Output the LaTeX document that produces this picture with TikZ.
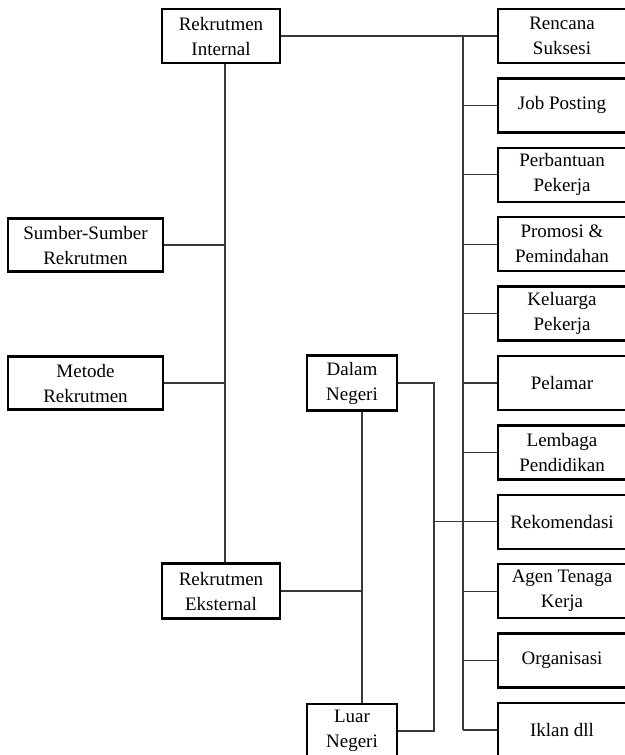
\documentclass[tikz,border=0pt]{standalone}
\usepackage{fontspec}
\setmainfont{Liberation Serif}
\usetikzlibrary{calc}

\tikzset{
        kotak/.style={draw=black, line width=2.4pt, align=center, inner sep=0pt,
                font=\fontsize{19}{25}\selectfont},
        garis/.style={draw=black!78, line width=1.2pt}
}

\begin{document}
\begin{tikzpicture}[x=1pt, y=-1pt]
        \useasboundingbox (0,0) rectangle (624,755);

        \node[kotak, minimum width=118, minimum height=54] (internal) at (221,36) {Rekrutmen\\Internal};
        \node[kotak, minimum width=155, minimum height=53] (sumber) at (85.5,245) {Sumber-Sumber\\Rekrutmen};
        \node[kotak, minimum width=155, minimum height=53] (metode) at (85.5,383) {Metode\\Rekrutmen};
        \node[kotak, minimum width=118, minimum height=55] (eksternal) at (221,591) {Rekrutmen\\Eksternal};
        \node[kotak, minimum width=90, minimum height=55] (dalam) at (352,383) {Dalam\\Negeri};
        \node[kotak, minimum width=90, minimum height=54] (luar) at (352,731) {Luar\\Negeri};

        \foreach \teks [count=\i] in {Rencana\\Suksesi, Job Posting, Perbantuan\\Pekerja,
                Promosi \&\\Pemindahan, Keluarga\\Pekerja, Pelamar, Lembaga\\Pendidikan,
                Rekomendasi, Agen Tenaga\\Kerja, Organisasi, Iklan dll}
                \node[kotak, minimum width=128, minimum height=54] (r\i) at (562,{36+69.4*(\i-1)}) {\teks};

        \coordinate (bus) at (463,0);
        \coordinate (tulang) at (225,0);
        \coordinate (cabang) at (362,0);
        \coordinate (sambung) at (434,0);

        \draw[garis] (internal.east) -- (r1.west);
        \draw[garis] (bus |- r1.west) -- (bus |- r11.west);
        \foreach \i in {2,...,11}
                \draw[garis] (bus |- r\i.west) -- (r\i.west);

        \draw[garis] (tulang |- internal.south) -- (tulang |- eksternal.north);
        \draw[garis] (sumber.east) -- (tulang |- sumber.east);
        \draw[garis] (metode.east) -- (tulang |- metode.east);

        \draw[garis] (eksternal.east) -- (cabang |- eksternal.east);
        \draw[garis] (cabang |- dalam.south) -- (cabang |- luar.north);
        \draw[garis] (dalam.east) -| (sambung |- luar.east) -- (luar.east);
        \draw[garis] (sambung |- r8.west) -- (bus |- r8.west);
\end{tikzpicture}
\end{document}
